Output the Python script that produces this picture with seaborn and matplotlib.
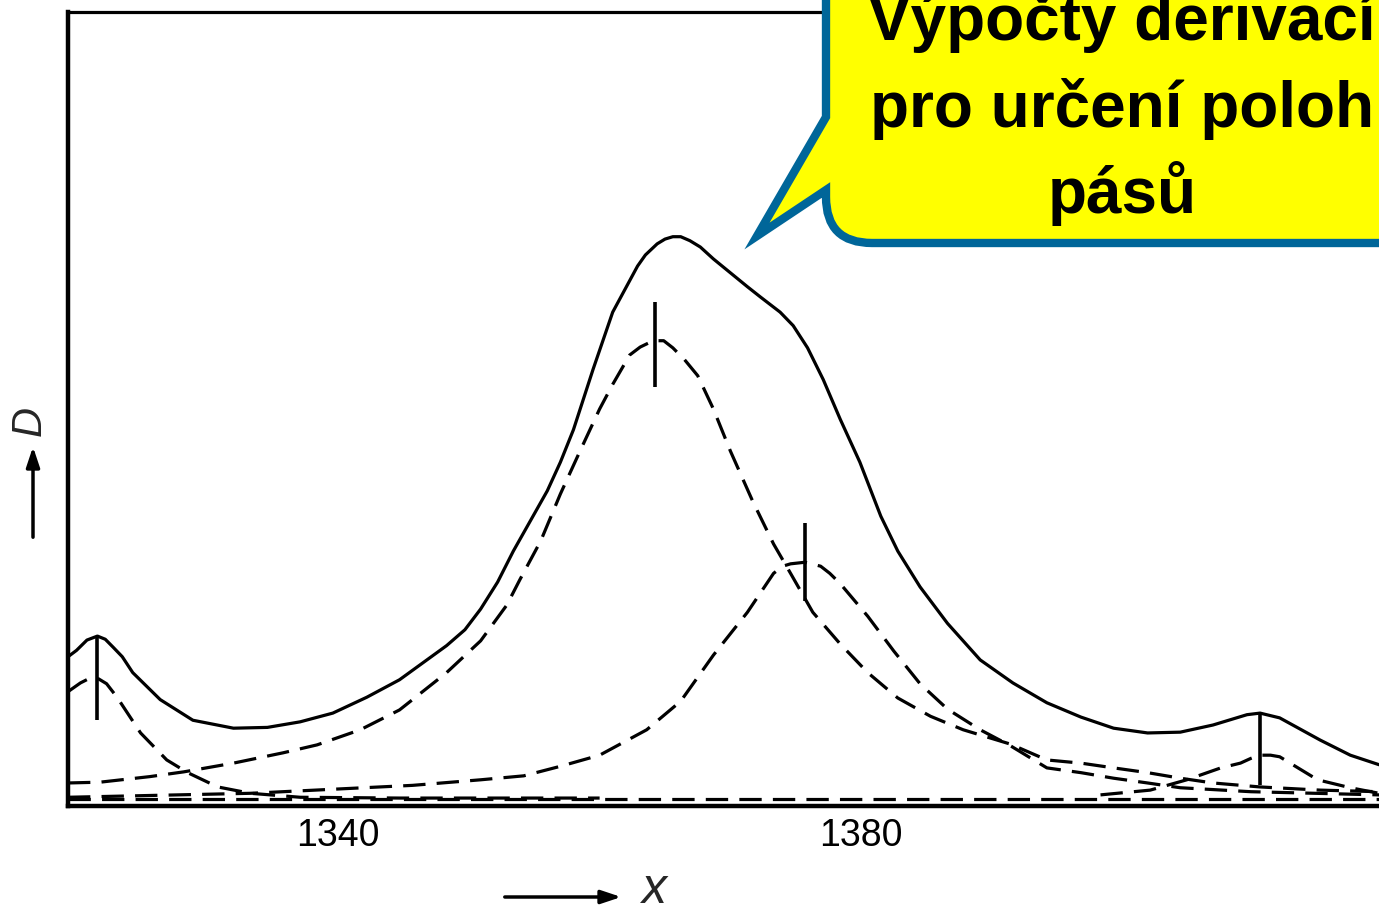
import numpy as np
import pandas as pd
import matplotlib
matplotlib.use("Agg")
import matplotlib.pyplot as plt
import seaborn as sns
from matplotlib.path import Path
from matplotlib.patches import PathPatch, FancyArrowPatch

# wavenumber (x) and absorbance D (0..100, arbitrary units)
env_x = [1319.35, 1320.0, 1320.8, 1321.6, 1322.2, 1322.8, 1323.5, 1324.3, 1326.4, 1328.9,
         1332.0, 1334.6, 1337.1, 1339.6, 1342.2, 1344.7, 1348.3, 1349.7, 1350.9, 1352.2,
         1353.4, 1354.7, 1356.0, 1357.0, 1358.0, 1359.5, 1361.0, 1362.9, 1363.5, 1364.4,
         1365.0, 1365.6, 1366.2, 1366.9, 1367.7, 1368.7, 1371.3, 1372.3, 1373.8, 1374.8,
         1375.9, 1377.1, 1378.4, 1379.9, 1381.5, 1382.8, 1384.5, 1386.6, 1389.1, 1391.6,
         1394.2, 1396.8, 1399.3, 1401.9, 1404.4, 1406.9, 1409.5, 1410.5, 1412.0, 1415.1,
         1417.4, 1419.6]
env_d = [18.8, 19.6, 20.9, 21.4, 21.0, 20.0, 18.8, 16.8, 13.4, 10.8,
         9.8, 9.9, 10.6, 11.7, 13.7, 15.9, 20.2, 22.2, 24.8, 28.2,
         32.1, 35.9, 39.7, 43.3, 47.4, 55.0, 62.2, 68.0, 69.4, 70.8,
         71.4, 71.7, 71.7, 71.2, 70.4, 68.9, 65.4, 64.1, 62.2, 60.5,
         57.7, 53.7, 48.7, 43.3, 36.5, 32.1, 27.6, 23.0, 18.4, 15.5,
         13.0, 11.2, 9.8, 9.2, 9.3, 10.2, 11.5, 11.7, 11.1, 8.3,
         6.4, 5.2]

band1_x = [1319.35, 1320.3, 1320.9, 1321.6, 1322.3, 1323.1, 1324.9, 1326.9, 1328.5, 1330.8,
           1333.3, 1337.1, 1344.7, 1360.0]
band1_d = [14.4, 15.5, 16.0, 16.1, 15.4, 13.7, 9.2, 5.8, 4.2, 2.4,
           1.6, 1.1, 1.0, 1.0]

band2_x = [1319.35, 1321.8, 1325.6, 1328.2, 1332.0, 1335.8, 1338.4, 1341.7, 1344.7, 1348.3,
           1350.9, 1352.9, 1353.9, 1355.5, 1357.0, 1358.5, 1360.0, 1361.0, 1362.3, 1363.1,
           1364.1, 1364.9, 1365.6, 1366.5, 1367.5, 1368.7, 1370.0, 1371.7, 1373.3, 1374.6,
           1376.3, 1378.4, 1380.5, 1382.8, 1385.3, 1387.8, 1391.4, 1394.2, 1396.8, 1399.3,
           1401.9, 1404.4, 1406.9, 1410.5, 1415.1, 1419.6]
band2_d = [2.9, 3.0, 3.7, 4.3, 5.4, 6.7, 7.7, 9.6, 12.1, 16.8,
           20.8, 25.3, 28.5, 33.4, 39.3, 44.7, 50.0, 53.1, 56.8, 57.8,
           58.6, 58.6, 57.7, 56.2, 54.2, 50.0, 44.7, 38.4, 33.0, 29.3,
           24.4, 20.4, 16.8, 13.6, 11.3, 9.6, 7.8, 5.8, 5.4, 4.8,
           4.2, 3.5, 2.9, 2.4, 2.0, 1.8]

band3_x = [1319.35, 1333.3, 1343.2, 1345.7, 1350.9, 1354.2, 1357.0, 1360.0, 1363.6, 1366.2,
           1368.7, 1371.3, 1373.3, 1374.0, 1374.6, 1375.7, 1376.9, 1377.6, 1378.4, 1380.5,
           1382.5, 1384.5, 1386.6, 1389.1, 1391.4, 1394.2, 1396.8, 1399.3, 1401.9, 1404.4,
           1409.8, 1419.6]
band3_d = [1.1, 1.6, 2.4, 2.6, 3.3, 3.8, 5.0, 6.4, 9.6, 13.2,
           19.0, 24.4, 29.3, 30.2, 30.5, 30.7, 30.2, 29.3, 28.0, 23.9,
           19.5, 15.4, 12.2, 9.6, 7.6, 4.8, 4.2, 3.5, 2.9, 2.3,
           1.8, 1.4]

band4_x = [1398.3, 1402.1, 1404.9, 1407.5, 1409.0, 1409.8, 1410.5, 1411.3, 1412.0, 1412.8,
           1414.9, 1417.4, 1419.6]
band4_d = [1.4, 2.0, 3.3, 4.8, 5.4, 6.0, 6.4, 6.4, 6.2, 5.4,
           3.3, 2.3, 1.6]

base_x = [1319.35, 1419.6]
base_d = [0.9, 0.9]

# band positions found from the derivatives
mark_x = [1321.6, 1364.2, 1375.7, 1410.5]
mark_lo = [10.8, 52.8, 25.8, 2.6]
mark_hi = [21.4, 63.5, 35.6, 11.7]

tick_pos = [1340, 1360, 1380, 1400]
tick_lab = ["1340", "", "1380", ""]

callout = ["Výpočty derivací", "pro určení poloh", "pásů"]

sns.set_style("white")
plt.rcParams["font.family"] = ["Liberation Sans", "DejaVu Sans"]

W, H = 1379, 911
fig = plt.figure(figsize=(W / 100, H / 100), dpi=100)
ax = fig.add_axes([68 / W, 105 / H, (1400 - 68) / W, 794 / H])

solid = dict(color="black", lw=2.3)
dash = dict(color="black", lw=2.3, linestyle=(0, (7, 3.5)))
sns.lineplot(x=env_x, y=env_d, ax=ax, **solid)
for bx, bd in [(band1_x, band1_d), (band2_x, band2_d), (band3_x, band3_d),
               (band4_x, band4_d), (base_x, base_d)]:
    sns.lineplot(x=bx, y=bd, ax=ax, **dash)
ax.vlines(mark_x, mark_lo, mark_hi, color="black", lw=2.6)

ax.set_xlim(1319.35, 1421.2)
ax.set_ylim(0, 100)
ax.set_yticks([])
ax.set_xticks(tick_pos)
ax.set_xticklabels(tick_lab, fontsize=27)
ax.tick_params(axis="x", direction="in", length=22, width=1.6, pad=9, colors="black")
ax.set_xlabel("")
ax.set_ylabel("")
for s, w in [("left", 3.2), ("bottom", 3.2), ("top", 2.3)]:
    ax.spines[s].set_linewidth(w)
    ax.spines[s].set_color("black")
ax.spines["right"].set_visible(False)


def fp(px, py):
    return (px / W, 1 - py / H)


# axis arrows
fig.add_artist(FancyArrowPatch(
    fp(33, 540), fp(33, 444), transform=fig.transFigure,
    arrowstyle="-|>,head_length=12,head_width=4", lw=2.5, color="black"))
fig.text(*fp(30, 421), "D", rotation=90, ha="center", va="center",
         fontsize=30, style="italic")
fig.add_artist(FancyArrowPatch(
    fp(502, 897), fp(624, 897), transform=fig.transFigure,
    arrowstyle="-|>,head_length=12,head_width=4", lw=2.5, color="black"))
fig.text(*fp(654, 890), "x", ha="center", va="center", fontsize=36, style="italic")

# speech-bubble callout
verts = [fp(826, -80), fp(826, 117), fp(757, 236), fp(826, 190), fp(826, 197),
         fp(826, 243), fp(872, 243), fp(1460, 243), fp(1460, -80), fp(826, -80)]
codes = [Path.MOVETO, Path.LINETO, Path.LINETO, Path.LINETO, Path.LINETO,
         Path.CURVE3, Path.CURVE3, Path.LINETO, Path.LINETO, Path.CLOSEPOLY]
bubble = PathPatch(Path(verts, codes), transform=fig.transFigure,
                   facecolor="#ffff00", edgecolor="#006699", lw=6, zorder=10)
fig.add_artist(bubble)
for txt, py in zip(callout, [40, 127, 213]):
    fig.text(*fp(1122, py), txt, ha="center", va="baseline", fontsize=46,
             fontweight="bold", color="black", zorder=11)

fig.savefig("out.png", dpi=100)
